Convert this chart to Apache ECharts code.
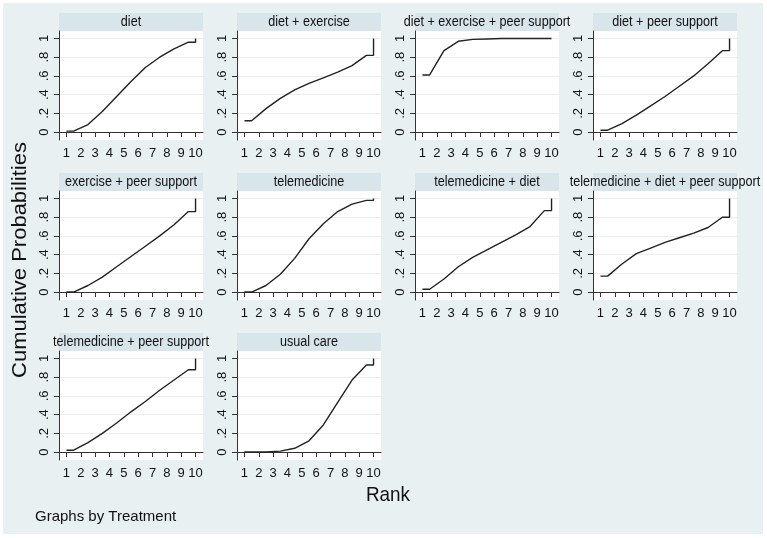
<!DOCTYPE html>
<html>
<head>
<meta charset="utf-8">
<script src="https://cdn.jsdelivr.net/npm/echarts@6/dist/echarts.min.js"></script>
<style>
  html, body { margin: 0; padding: 0; background: #fff; }
  #main { width: 767px; height: 538px; }
</style>
</head>
<body>
<div id="main"></div>
<script>
// treatments, in panel order
const treatments = [
  'diet', 'diet + exercise', 'diet + exercise + peer support', 'diet + peer support',
  'exercise + peer support', 'telemedicine', 'telemedicine + diet',
  'telemedicine + diet + peer support', 'telemedicine + peer support', 'usual care'
]
const ranks = [1, 2, 3, 4, 5, 6, 7, 8, 9, 10]
const yTicks = [0, 0.2, 0.4, 0.6, 0.8, 1]
const yTickLabels = ['0', '.2', '.4', '.6', '.8', '1']

// cumulative probability for rank 1..10
const diet = [0.01, 0.08, 0.22, 0.38, 0.54, 0.69, 0.80, 0.89, 0.96, 1]
const dietExercise = [0.12, 0.25, 0.36, 0.45, 0.52, 0.58, 0.64, 0.71, 0.82, 1]
const dietExercisePeer = [0.61, 0.87, 0.97, 0.99, 0.995, 1, 1, 1, 1, 1]
const dietPeer = [0.02, 0.09, 0.18, 0.28, 0.38, 0.49, 0.60, 0.73, 0.87, 1]
const exercisePeer = [0.00, 0.07, 0.16, 0.27, 0.38, 0.49, 0.60, 0.72, 0.86, 1]
const telemedicine = [0.00, 0.07, 0.19, 0.36, 0.57, 0.73, 0.86, 0.94, 0.98, 1]
const teleDiet = [0.03, 0.14, 0.27, 0.37, 0.45, 0.53, 0.61, 0.70, 0.87, 1]
const teleDietPeer = [0.17, 0.30, 0.41, 0.47, 0.53, 0.58, 0.63, 0.69, 0.80, 1]
const telePeer = [0.02, 0.10, 0.20, 0.31, 0.43, 0.54, 0.66, 0.77, 0.88, 1]
const usualCare = [0.00, 0.00, 0.01, 0.04, 0.12, 0.29, 0.53, 0.77, 0.93, 1]

const cumProb = [diet, dietExercise, dietExercisePeer, dietPeer, exercisePeer,
  telemedicine, teleDiet, teleDietPeer, telePeer, usualCare]

// line like the stata plot: flat to 1.5, then through the half ranks, flat to 10, jump to 1
function curve(vals) {
  let n = vals.length
  let pts = [[ranks[0], vals[0]]]
  for (let k = 0; k < n - 1; k++) pts.push([ranks[k] + 0.5, vals[k]])
  pts.push([ranks[n - 1], vals[n - 2]])
  pts.push([ranks[n - 1], vals[n - 1]])
  return pts
}

const font = 'Liberation Sans, Arial, sans-serif'
const colX = [59, 237, 415, 593]
const rowY = [13, 173, 333]
const stripH = 18
const plotW = 144
const plotH = 109

let grids = [], xAxes = [], yAxes = [], series = []
let graphics = [
  { type: 'rect', z: -10, shape: { x: 3, y: 3, width: 760, height: 531 }, style: { fill: '#e8f0f2' } }
]

treatments.forEach((name, i) => {
  let c = i % 4, r = Math.floor(i / 4)
  let left = colX[c], top = rowY[r]
  grids.push({
    left: left, top: top + stripH, width: plotW, height: plotH,
    show: true, backgroundColor: '#fff', borderWidth: 0
  })
  graphics.push({
    type: 'rect', z: -5, shape: { x: left, y: top, width: plotW, height: stripH },
    style: { fill: '#d8e5eb' }
  })
  graphics.push({
    type: 'text', z: 5, x: left + plotW / 2, y: top + stripH / 2 + 0.5, scaleX: 0.9,
    style: { text: name, font: '14px ' + font, fill: '#111', align: 'center', verticalAlign: 'middle' }
  })
  xAxes.push({
    type: 'value', gridIndex: i, min: 0.48, max: 10.52,
    axisLine: { show: true, lineStyle: { color: '#333' } },
    axisTick: { show: true, length: 5, customValues: ranks, lineStyle: { color: '#333' } },
    axisLabel: { customValues: ranks, color: '#111', fontSize: 13, fontFamily: font, margin: 7 },
    splitLine: { show: false }
  })
  yAxes.push({
    type: 'value', gridIndex: i, min: -0.085, max: 1.08,
    axisLine: { show: true, lineStyle: { color: '#333' } },
    axisTick: { show: true, length: 5, customValues: yTicks, lineStyle: { color: '#333' } },
    axisLabel: {
      customValues: yTicks, rotate: 90, color: '#111', fontSize: 13, fontFamily: font, margin: 8,
      formatter: v => yTickLabels[yTicks.indexOf(Math.round(v * 10) / 10)]
    },
    splitLine: { show: true, lineStyle: { color: '#e6eff2', width: 1 } }
  })
  series.push({
    type: 'line', xAxisIndex: i, yAxisIndex: i,
    data: curve(cumProb[i]), showSymbol: false, symbol: 'none',
    lineStyle: { color: '#222', width: 1.4 }, animation: false
  })
})

graphics.push({
  type: 'text', x: 20, y: 260, rotation: Math.PI / 2, scaleY: 0.92,
  style: { text: 'Cumulative Probabilities', font: '22px ' + font, fill: '#111', align: 'center', verticalAlign: 'middle' }
})
graphics.push({
  type: 'text', x: 388, y: 495, scaleX: 0.9,
  style: { text: 'Rank', font: '21px ' + font, fill: '#111', align: 'center', verticalAlign: 'middle' }
})
graphics.push({
  type: 'text', x: 35, y: 517,
  style: { text: 'Graphs by Treatment', font: '15px ' + font, fill: '#111', align: 'left', verticalAlign: 'middle' }
})

let chart = echarts.init(document.getElementById('main'))
chart.setOption({
  backgroundColor: '#fff',
  animation: false,
  grid: grids,
  xAxis: xAxes,
  yAxis: yAxes,
  series: series,
  graphic: graphics
})
</script>
</body>
</html>
